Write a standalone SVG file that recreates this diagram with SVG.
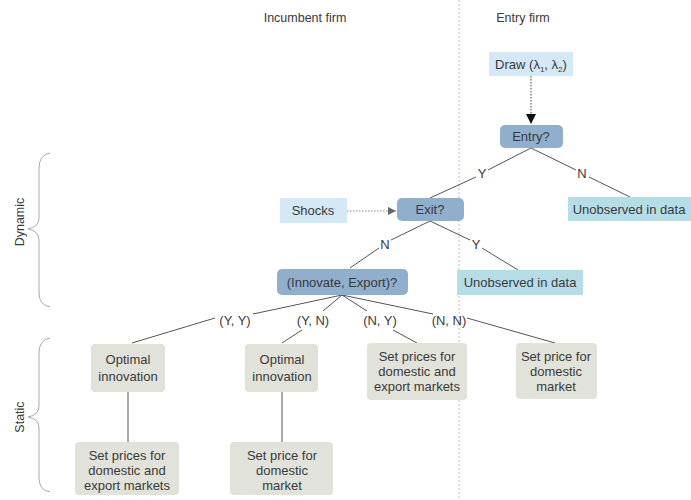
<svg xmlns="http://www.w3.org/2000/svg" width="691" height="500" viewBox="0 0 691 500">
<defs>
<style>
text{font-family:"Liberation Sans",Arial,sans-serif;fill:#3a3a3a;font-size:13px;text-anchor:middle}
.hdr{font-size:12.5px}
.lb{font-size:13px}
.dec{fill:#90afcd}
.lt{fill:#d3e9f6}
.un{fill:#b5dde8}
.gr{fill:#e1e2d9}
.ln{stroke:#555;stroke-width:1;fill:none}
.br{stroke:#aaa;stroke-width:1;fill:none}
</style>
<marker id="ah" viewBox="0 0 10 10" refX="10" refY="5" markerWidth="10" markerHeight="10" markerUnits="userSpaceOnUse" orient="auto"><path d="M0,0L10,5L0,10z" fill="#111"/></marker>
<marker id="ahg" viewBox="0 0 10 10" refX="10" refY="5" markerWidth="8" markerHeight="8" markerUnits="userSpaceOnUse" orient="auto"><path d="M0,0L10,5L0,10z" fill="#666"/></marker>
</defs>
<rect width="691" height="500" fill="#fff"/>
<line x1="459" y1="0" x2="459" y2="500" stroke="#bbb" stroke-dasharray="2,2"/>
<text class="hdr" x="305" y="22">Incumbent firm</text>
<text class="hdr" x="523" y="22">Entry firm</text>
<g id="braces">
<path class="br" d="M50,153 Q39,155 39,168 L39,218 Q39,227 28,229 Q39,231 39,240 L39,293 Q39,305 50,307"/>
<text x="21" y="222" transform="rotate(-90 21 222)" dominant-baseline="middle" class="hdr">Dynamic</text>
<path class="br" d="M50,338 Q39,340 39,353 L39,406 Q39,415 28,417 Q39,419 39,428 L39,478 Q39,490 50,492"/>
<text x="21" y="417" transform="rotate(-90 21 417)" dominant-baseline="middle" class="hdr">Static</text>
</g>
<g id="connectors">
<line x1="531" y1="76" x2="531" y2="124" stroke="#444" stroke-dasharray="1.5,1.5" marker-end="url(#ah)"/>
<line x1="347" y1="211" x2="396" y2="211" stroke="#888" stroke-dasharray="1.5,1.5" marker-end="url(#ahg)"/>
<path class="ln" d="M531,148 L488,170 M476,177 L430,198"/>
<path class="ln" d="M531,148 L576,170 M589,177 L630,197"/>
<path class="ln" d="M430,221 L391,240 M379,248 L350,268"/>
<path class="ln" d="M430,221 L470,240 M482,248 L518,270"/>
<path class="ln" d="M342,295 L253,314 M215,318 L132,343"/>
<path class="ln" d="M342,295 L323,311 M302,330 L282,343"/>
<path class="ln" d="M342,295 L367,311 M393,330 L417,343"/>
<path class="ln" d="M342,295 L433,314 M467,318 L555,343"/>
<line class="ln" x1="128" y1="392" x2="128" y2="442"/>
<line class="ln" x1="282" y1="392" x2="282" y2="442"/>
<text class="lb" x="482" y="178">Y</text>
<text class="lb" x="582" y="178">N</text>
<text class="lb" x="385" y="249">N</text>
<text class="lb" x="476" y="249">Y</text>
<text class="lb" x="235" y="325">(Y, Y)</text>
<text class="lb" x="313" y="325">(Y, N)</text>
<text class="lb" x="380" y="325">(N, Y)</text>
<text class="lb" x="449" y="325">(N, N)</text>
</g>
<g id="draw"><rect class="lt" x="489" y="52" width="84" height="24"/><text x="531" y="69">Draw (λ<tspan font-size="8" dy="3">1</tspan><tspan dy="-3">, λ</tspan><tspan font-size="8" dy="3">2</tspan><tspan dy="-3">)</tspan></text></g>
<g id="entry"><rect class="dec" x="500" y="125" width="63" height="23" rx="5"/><text x="531" y="141">Entry?</text></g>
<g id="shocks"><rect class="lt" x="280" y="198" width="67" height="25"/><text x="313" y="215">Shocks</text></g>
<g id="exit"><rect class="dec" x="397" y="198" width="67" height="23" rx="5"/><text x="430" y="214">Exit?</text></g>
<g id="unobs1"><rect class="un" x="568" y="197" width="123" height="24"/><text x="629" y="214">Unobserved in data</text></g>
<g id="unobs2"><rect class="un" x="457" y="270" width="126" height="25"/><text x="520" y="287">Unobserved in data</text></g>
<g id="innovate"><rect class="dec" x="277" y="269" width="131" height="26" rx="5"/><text x="342" y="287">(Innovate, Export)?</text></g>
<g id="opt1"><rect class="gr" x="91" y="344" width="74" height="48" rx="4"/><text x="128" y="364">Optimal</text><text x="128" y="381">innovation</text></g>
<g id="opt2"><rect class="gr" x="245" y="344" width="73" height="48" rx="4"/><text x="282" y="364">Optimal</text><text x="282" y="381">innovation</text></g>
<g id="setny"><rect class="gr" x="367" y="343" width="100" height="57" rx="4"/><text x="417" y="361">Set prices for</text><text x="417" y="376">domestic and</text><text x="417" y="391">export markets</text></g>
<g id="setnn"><rect class="gr" x="516" y="343" width="81" height="56" rx="4"/><text x="556" y="361">Set price for</text><text x="556" y="376">domestic</text><text x="556" y="391">market</text></g>
<g id="setyy"><rect class="gr" x="75" y="442" width="104" height="53" rx="4"/><text x="127" y="460">Set prices for</text><text x="127" y="475">domestic and</text><text x="127" y="490">export markets</text></g>
<g id="setyn"><rect class="gr" x="230" y="442" width="103" height="53" rx="4"/><text x="282" y="460">Set price for</text><text x="282" y="475">domestic</text><text x="282" y="490">market</text></g>
</svg>
